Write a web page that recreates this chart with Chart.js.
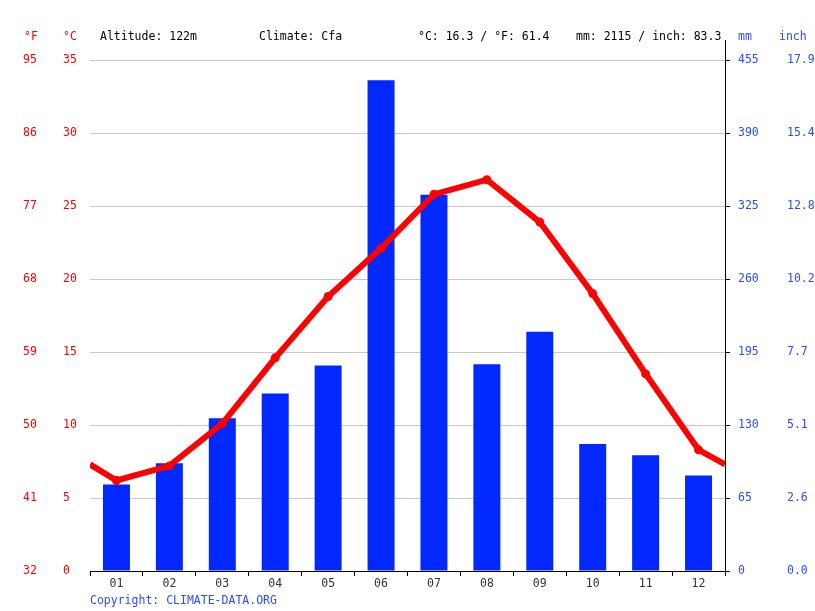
<!DOCTYPE html>
<html>
<head>
<meta charset="utf-8">
<script src="https://cdn.jsdelivr.net/npm/chart.js@4/dist/chart.umd.min.js"></script>
<style>
  html, body { margin: 0; padding: 0; background: #fff; }
  #wrap { width: 815px; height: 611px; }
</style>
</head>
<body>
<div id="wrap"><canvas id="climate"></canvas></div>
<script>
"use strict";

// data
const months = ["01", "02", "03", "04", "05", "06", "07", "08", "09", "10", "11", "12"];
const rainMm = [77, 96, 136, 158, 183, 437, 335, 184, 213, 113, 103, 85];
const tempC = [6.2, 7.2, 10.1, 14.6, 18.8, 22.1, 25.8, 26.8, 23.9, 19.0, 13.5, 8.3];
const edgeTempC = 7.3; // where the line meets the plot edges

// tick labels
const cTicks = ["0", "5", "10", "15", "20", "25", "30", "35"];
const fTicks = ["32", "41", "50", "59", "68", "77", "86", "95"];
const mmTicks = ["0", "65", "130", "195", "260", "325", "390", "455"];
const inchTicks = ["0.0", "2.6", "5.1", "7.7", "10.2", "12.8", "15.4", "17.9"];

const headerTexts = ["Altitude: 122m", "Climate: Cfa", "°C: 16.3 / °F: 61.4", "mm: 2115 / inch: 83.3"];

const RED = "#ff0000";
const BLUE = "#0028ff";
const TEXT_BLUE = "#2a4dff";

Chart.defaults.font.family = "'DejaVu Sans Mono', monospace";
Chart.defaults.font.size = 11.5;

// line points, with the edge points at x = 0.5 and 12.5
const linePoints = [{ x: 0.5, y: edgeTempC }]
  .concat(tempC.map((t, i) => ({ x: i + 1, y: t })))
  .concat([{ x: 12.5, y: edgeTempC }]);
const pointSizes = linePoints.map((p, i) => (i === 0 || i === linePoints.length - 1 ? 0 : 4.5));

//extra text and the top part of the right axis line
const decorations = {
  id: "decorations",
  afterDraw(chart) {
    const ctx = chart.ctx;
    const area = chart.chartArea;
    ctx.save();
    ctx.strokeStyle = "#000";
    ctx.lineWidth = 1;
    ctx.beginPath();
    ctx.moveTo(Math.round(area.right) + 0.5, 40);
    ctx.lineTo(Math.round(area.right) + 0.5, area.top);
    ctx.stroke();

    ctx.font = "11.5px 'DejaVu Sans Mono', monospace";
    ctx.textBaseline = "middle";
    ctx.textAlign = "left";
    ctx.fillStyle = RED;
    ctx.fillText("°F", 24, 37);
    ctx.fillText("°C", 63, 37);
    ctx.fillStyle = "#000";
    ctx.fillText(headerTexts[0], 100, 37);
    ctx.fillText(headerTexts[1], 259, 37);
    ctx.fillText(headerTexts[2], 418, 37);
    ctx.fillText(headerTexts[3], 576, 37);
    ctx.fillStyle = TEXT_BLUE;
    ctx.fillText("mm", 738, 37);
    ctx.fillText("inch", 779, 37);
    ctx.fillText("Copyright: CLIMATE-DATA.ORG", 90, 601);
    ctx.restore();
  },
};

const fixWidth = (w) => (scale) => { scale.width = w; };

new Chart(document.getElementById("climate"), {
  data: {
    labels: months,
    datasets: [
      {
        type: "line",
        label: "°C",
        data: linePoints,
        xAxisID: "x2",
        yAxisID: "yC",
        borderColor: RED,
        backgroundColor: RED,
        borderWidth: 6,
        pointRadius: pointSizes,
        pointBorderWidth: 0,
        tension: 0,
        order: 0,
      },
      {
        type: "bar",
        label: "mm",
        data: rainMm,
        xAxisID: "x",
        yAxisID: "mm",
        backgroundColor: BLUE,
        grouped: false,
        barPercentage: 0.51,
        categoryPercentage: 1,
        order: 1,
      },
    ],
  },
  options: {
    responsive: true,
    maintainAspectRatio: false,
    animation: false,
    layout: { padding: { top: 60, left: 23, right: 0, bottom: 0 } },
    plugins: { legend: { display: false }, tooltip: { enabled: false } },
    scales: {
      x: {
        type: "category",
        position: "bottom",
        grid: { display: true, drawOnChartArea: false, offset: true, tickLength: 5, color: "#000" },
        border: { display: true, color: "#000" },
        ticks: { color: "#333", padding: 1, maxRotation: 0 },
        afterFit: (scale) => { scale.height = 40; },
      },
      x2: {
        type: "linear",
        display: false,
        min: 0.5,
        max: 12.5,
      },
      yF: {
        position: "left",
        weight: 2,
        min: 0,
        max: 35,
        grid: { display: false },
        border: { display: false },
        ticks: {
          stepSize: 5,
          color: RED,
          crossAlign: "far",
          callback: (v, i) => fTicks[i],
        },
        afterFit: fixWidth(40),
      },
      yC: {
        position: "left",
        weight: 1,
        min: 0,
        max: 35,
        grid: { color: "#c8c8c8", drawTicks: false },
        border: { display: false },
        ticks: {
          stepSize: 5,
          color: RED,
          crossAlign: "far",
          callback: (v, i) => cTicks[i],
        },
        afterFit: fixWidth(27),
      },
      mm: {
        position: "right",
        weight: 1,
        min: 0,
        max: 455,
        grid: { drawOnChartArea: false, tickLength: 5, color: "#000" },
        border: { display: true, color: "#000" },
        ticks: {
          stepSize: 65,
          color: TEXT_BLUE,
          padding: 8,
          callback: (v, i) => mmTicks[i],
        },
        afterFit: fixWidth(46),
      },
      inch: {
        position: "right",
        weight: 2,
        min: 0,
        max: 455,
        grid: { display: false },
        border: { display: false },
        ticks: {
          stepSize: 65,
          color: TEXT_BLUE,
          padding: 8,
          callback: (v, i) => inchTicks[i],
        },
        afterFit: fixWidth(44),
      },
    },
  },
  plugins: [decorations],
});
</script>
</body>
</html>
